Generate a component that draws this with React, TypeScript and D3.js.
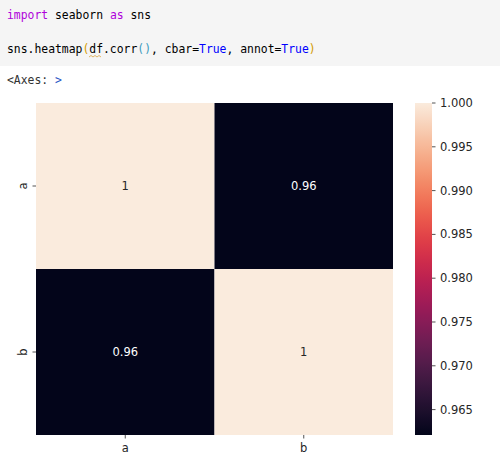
import React from "react";
import * as d3 from "d3";

const labels = ["a", "b"];
const corrValues = [
  [1, 0.9621],
  [0.9621, 1],
];
const cbarTicks = [0.965, 0.97, 0.975, 0.98, 0.985, 0.99, 0.995, 1.0];
const rocketStops = [
  "#03051a", "#35193e", "#701f57", "#ad1759", "#e13342", "#f37651", "#f6b48f", "#faebdd",
];

const W = 500;
const H = 468;
const hm = { x0: 36, x1: 393, y0: 103, y1: 435 };
const cb = { x0: 415, x1: 432, y0: 103, y1: 435 };
const tickFont = "'DejaVu Sans', sans-serif";
const monoFont = "'DejaVu Sans Mono', monospace";

export default function App() {
  const vmin = d3.min(corrValues.flat()) as number;
  const vmax = d3.max(corrValues.flat()) as number;
  const rocket = d3.interpolateRgbBasis(rocketStops);
  const color = d3.scaleSequential(rocket).domain([vmin, vmax]);

  const x = d3.scaleBand().domain(labels).range([hm.x0, hm.x1]);
  const y = d3.scaleBand().domain(labels).range([hm.y0, hm.y1]);
  const cy = d3.scaleLinear().domain([vmin, vmax]).range([cb.y1, cb.y0]);

  const cells = labels.flatMap((r, i) =>
    labels.map((c, j) => ({ r, c, v: corrValues[i][j] }))
  );
  const fmt = d3.format(".2~g");
  const gradStops = d3.range(0, 1.0001, 1 / 64);

  return (
    <svg
      width={W}
      height={H}
      style={{ position: "absolute", left: 0, top: 0, background: "#fff" }}
    >
      <defs>
        <linearGradient id="cbgrad" x1="0" y1="1" x2="0" y2="0">
          {gradStops.map((t) => (
            <stop key={t} offset={t} stopColor={rocket(t)} />
          ))}
        </linearGradient>
      </defs>
      {/* code cell */}
      <rect x={0} y={0} width={W} height={66} fill="#f5f5f5" />
      <text x={7} y={19} fontFamily={monoFont} fontSize={11.4} fill="#000">
        <tspan fill="#af00db">import</tspan>
        <tspan> seaborn </tspan>
        <tspan fill="#af00db">as</tspan>
        <tspan> sns</tspan>
      </text>
      <text x={7} y={53} fontFamily={monoFont} fontSize={11.4} fill="#000">
        <tspan>sns.heatmap</tspan>
        <tspan fill="#d39a00">(</tspan>
        <tspan>df.corr</tspan>
        <tspan fill="#3d9bbd">()</tspan>
        <tspan>, cbar=</tspan>
        <tspan fill="#0000ff">True</tspan>
        <tspan>, annot=</tspan>
        <tspan fill="#0000ff">True</tspan>
        <tspan fill="#d39a00">)</tspan>
      </text>
      <path
        d="M89,57 l2,-1.5 l2,1.5 l2,-1.5 l2,1.5 l2,-1.5 l2,1.5"
        fill="none"
        stroke="#d9a441"
        strokeWidth={0.8}
      />
      <text x={7} y={84} fontFamily={monoFont} fontSize={11.4} fill="#333">
        <tspan>{"<Axes: "}</tspan>
        <tspan fill="#2a56c6">{">"}</tspan>
      </text>

      {/* heatmap cells */}
      {cells.map((d) => (
        <rect
          key={d.r + d.c}
          x={x(d.c)}
          y={y(d.r)}
          width={x.bandwidth()}
          height={y.bandwidth()}
          fill={color(d.v)}
        />
      ))}
      {cells.map((d) => {
        const lum = d3.hsl(color(d.v)).l;
        return (
          <text
            key={"t" + d.r + d.c}
            x={(x(d.c) as number) + x.bandwidth() / 2}
            y={(y(d.r) as number) + y.bandwidth() / 2}
            dy="0.35em"
            textAnchor="middle"
            fontFamily={tickFont}
            fontSize={11.5}
            fill={lum > 0.5 ? "#262626" : "#ffffff"}
          >
            {fmt(d.v)}
          </text>
        );
      })}

      {/* x axis */}
      {labels.map((l) => {
        const cx = (x(l) as number) + x.bandwidth() / 2;
        return (
          <g key={"x" + l}>
            <line x1={cx} x2={cx} y1={hm.y1} y2={hm.y1 + 3.5} stroke="#262626" strokeWidth={0.8} />
            <text x={cx} y={hm.y1 + 17} textAnchor="middle" fontFamily={tickFont} fontSize={11.5} fill="#262626">
              {l}
            </text>
          </g>
        );
      })}
      {/* y axis */}
      {labels.map((l) => {
        const cyy = (y(l) as number) + y.bandwidth() / 2;
        return (
          <g key={"y" + l}>
            <line x1={hm.x0 - 3.5} x2={hm.x0} y1={cyy} y2={cyy} stroke="#262626" strokeWidth={0.8} />
            <text
              transform={`translate(${hm.x0 - 13},${cyy}) rotate(-90)`}
              textAnchor="middle"
              dy="0.35em"
              fontFamily={tickFont}
              fontSize={11.5}
              fill="#262626"
            >
              {l}
            </text>
          </g>
        );
      })}

      {/* colorbar */}
      <rect x={cb.x0} y={cb.y0} width={cb.x1 - cb.x0} height={cb.y1 - cb.y0} fill="url(#cbgrad)" />
      {cbarTicks.map((t) => (
        <g key={"c" + t}>
          <line x1={cb.x1} x2={cb.x1 + 3.5} y1={cy(t)} y2={cy(t)} stroke="#262626" strokeWidth={0.8} />
          <text x={cb.x1 + 8} y={cy(t)} dy="0.35em" fontFamily={tickFont} fontSize={11.5} fill="#262626">
            {d3.format(".3f")(t)}
          </text>
        </g>
      ))}
    </svg>
  );
}
